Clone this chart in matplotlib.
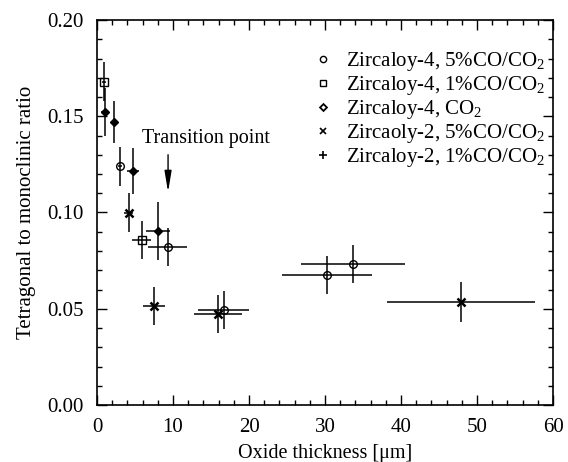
import numpy as np
import matplotlib
matplotlib.use('Agg')
import matplotlib.pyplot as plt
from matplotlib.lines import Line2D
from matplotlib.ticker import MultipleLocator, FormatStrFormatter

plt.rcParams['font.family'] = ['Liberation Serif', 'DejaVu Serif']
plt.rcParams['mathtext.fontset'] = 'custom'
plt.rcParams['mathtext.rm'] = 'Liberation Serif'
plt.rcParams['mathtext.it'] = 'Liberation Serif:italic'

# Zircaloy-4, 5%CO/CO2 (circles)
zr4_5_x = [3.0, 9.3, 16.7, 30.3, 33.7]
zr4_5_y = [0.124, 0.082, 0.0494, 0.0675, 0.0732]
zr4_5_xerr = [0.3, 2.6, 3.35, 5.9, 6.8]
zr4_5_yerr = [0.010, 0.010, 0.010, 0.010, 0.010]

# Zircaloy-4, 1%CO/CO2 (squares)
zr4_1_x = [0.9, 5.9]
zr4_1_y = [0.168, 0.0857]
zr4_1_xerr = [0.3, 1.25]
zr4_1_yerr = [0.010, 0.010]

# Zircaloy-4, CO2 (diamonds)
zr4_c_x = [1.05, 2.2, 4.7, 8.0]
zr4_c_y = [0.152, 0.147, 0.1216, 0.0904]
zr4_c_xerr = [0.5, 0.3, 0.8, 1.6]
zr4_c_yerr = [0.0125, 0.011, 0.012, 0.015]

# Zircaloy-2, 5%CO/CO2 (crosses)
zr2_5_x = [4.2, 7.5, 15.9, 47.9]
zr2_5_y = [0.100, 0.0514, 0.0473, 0.0535]
zr2_5_xerr = [0.6, 1.5, 3.2, 9.7]
zr2_5_yerr = [0.010, 0.010, 0.010, 0.0105]

labels = [
    'Zircaloy-4, 5%CO/CO$_2$',
    'Zircaloy-4, 1%CO/CO$_2$',
    'Zircaloy-4, CO$_2$',
    'Zircaoly-2, 5%CO/CO$_2$',
    'Zircaloy-2, 1%CO/CO$_2$',
]

fig = plt.figure(figsize=(5.68, 4.62), dpi=100)
ax = fig.add_axes([97/568, 1 - 405/462, 456/568, 385/462])

ebkw = dict(ecolor='black', elinewidth=1.1, capsize=0, linestyle='none', color='black')
ax.errorbar(zr4_5_x, zr4_5_y, xerr=zr4_5_xerr, yerr=zr4_5_yerr, marker='o', ms=5.5,
            mfc='none', mec='black', mew=1.0, **ebkw)
ax.errorbar(zr4_1_x, zr4_1_y, xerr=zr4_1_xerr, yerr=zr4_1_yerr, marker='s', ms=6,
            mfc='none', mec='black', mew=1.0, **ebkw)
ax.errorbar(zr4_c_x, zr4_c_y, xerr=zr4_c_xerr, yerr=zr4_c_yerr, marker='D', ms=4.5,
            mfc='black', mec='black', mew=1.0, **ebkw)
ax.errorbar(zr2_5_x, zr2_5_y, xerr=zr2_5_xerr, yerr=zr2_5_yerr, marker='x', ms=6,
            mec='black', mew=1.8, **ebkw)

# legend
handles = [
    Line2D([], [], ls='none', marker='o', ms=4.5, mfc='none', mec='black', mew=1.0),
    Line2D([], [], ls='none', marker='s', ms=4.5, mfc='none', mec='black', mew=1.0),
    Line2D([], [], ls='none', marker='D', ms=3.5, mfc='none', mec='black', mew=1.3),
    Line2D([], [], ls='none', marker='x', ms=5, mec='black', mew=1.2),
    Line2D([], [], ls='none', marker='+', ms=6, mec='black', mew=1.2),
]
ax.legend(handles, labels, loc='upper left', bbox_to_anchor=(0.44, 0.96), frameon=False,
          fontsize=15, handlelength=1.0, handletextpad=0.6, labelspacing=0.05,
          borderpad=0.2)

# transition point
ax.annotate('', xy=(9.35, 0.1106), xytext=(9.35, 0.130),
            arrowprops=dict(arrowstyle='-|>,head_length=0.9,head_width=0.15', color='black',
                            lw=1.0, shrinkA=0, shrinkB=0, mutation_scale=14))
ax.text(5.9, 0.1385, 'Transition point', fontsize=14.5, ha='left', va='center')

ax.set_xlim(0, 60)
ax.set_ylim(0, 0.20)
ax.xaxis.set_major_locator(MultipleLocator(10))
ax.xaxis.set_minor_locator(MultipleLocator(2))
ax.yaxis.set_major_locator(MultipleLocator(0.05))
ax.yaxis.set_minor_locator(MultipleLocator(0.01))
ax.yaxis.set_major_formatter(FormatStrFormatter('%.2f'))
ax.tick_params(which='both', direction='in', top=True, right=True, labelsize=15, pad=9.5)
ax.tick_params(which='major', length=7, width=1.0)
ax.tick_params(which='minor', length=3.5, width=1.0)
for s in ax.spines.values():
    s.set_linewidth(1.2)

ax.set_xlabel('Oxide thickness [μm]', fontsize=14.5, labelpad=5)
ax.set_ylabel('Tetragonal to monoclinic ratio', fontsize=15, labelpad=8)

plt.savefig('out.png', dpi=100)
